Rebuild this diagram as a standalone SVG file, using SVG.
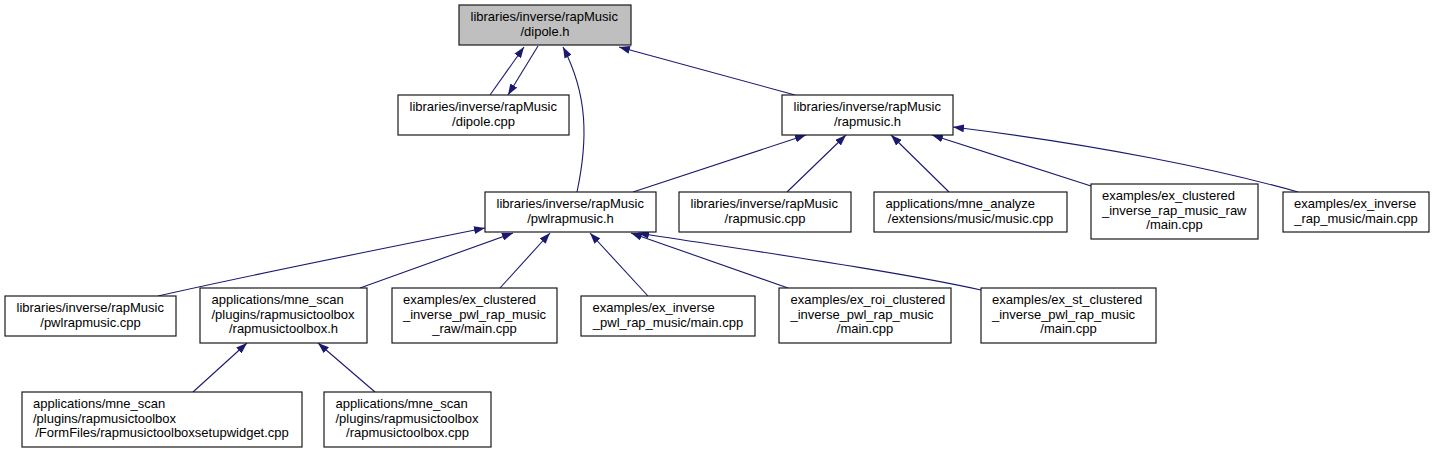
<svg xmlns="http://www.w3.org/2000/svg" width="1435" height="453" viewBox="0 0 1435 453">
<style>
.box{fill:#ffffff;stroke:#1a1a1a;stroke-width:1.2}
.root{fill:#bfbfbf;stroke:#1a1a1a;stroke-width:1.2}
text{font-family:"Liberation Sans",Arial,sans-serif;font-size:13px;fill:#000}
.l{text-anchor:start}
.c{text-anchor:middle}
.edge{fill:none;stroke:#191970;stroke-width:1.1;marker-end:url(#ah)}
</style>
<defs>
<marker id="ah" markerWidth="11" markerHeight="8" refX="11" refY="4" orient="auto" markerUnits="userSpaceOnUse">
<path d="M0,0 L11,4 L0,8 z" fill="#191970"/>
</marker>
</defs>
<rect width="1435" height="453" fill="#ffffff"/>
<g id="edges">
<path class="edge" d="M490,95 L524,47"/>
<path class="edge" d="M538,46 L508,95"/>
<path class="edge" d="M577,192 C588,140 588,95 563,47"/>
<path class="edge" d="M795,95 L619,47"/>
<path class="edge" d="M633,192 L806,135"/>
<path class="edge" d="M787,192 L846,135"/>
<path class="edge" d="M949,192 L891,135"/>
<path class="edge" d="M1091,186 L932,135"/>
<path class="edge" d="M1298,192 C1220,170 1100,145 953,127"/>
<path class="edge" d="M158,296 C250,275 400,245 485,228"/>
<path class="edge" d="M360,288 L513,233"/>
<path class="edge" d="M500,288 L550,233"/>
<path class="edge" d="M648,296 L590,233"/>
<path class="edge" d="M788,288 L631,233"/>
<path class="edge" d="M981,290 C900,272 760,252 638,233"/>
<path class="edge" d="M193,392 L247,343"/>
<path class="edge" d="M375,392 L318,343"/>
</g>
<g id="dipole_h">
<rect class="root" x="459" y="5" width="172" height="40"/>
<text class="l" x="470.5" y="21">libraries/inverse/rapMusic</text>
<text class="c" x="545" y="35.5">/dipole.h</text>
</g>
<g id="dipole_cpp">
<rect class="box" x="398" y="95" width="171" height="40"/>
<text class="l" x="409.5" y="111">libraries/inverse/rapMusic</text>
<text class="c" x="483.5" y="125.5">/dipole.cpp</text>
</g>
<g id="rapmusic_h">
<rect class="box" x="782" y="95" width="171" height="40"/>
<text class="l" x="793.5" y="111">libraries/inverse/rapMusic</text>
<text class="c" x="867.5" y="125.5">/rapmusic.h</text>
</g>
<g id="pwlrapmusic_h">
<rect class="box" x="485" y="192" width="171" height="40"/>
<text class="l" x="496.5" y="208">libraries/inverse/rapMusic</text>
<text class="c" x="570.5" y="222.5">/pwlrapmusic.h</text>
</g>
<g id="rapmusic_cpp">
<rect class="box" x="679" y="192" width="172" height="40"/>
<text class="l" x="690.5" y="208">libraries/inverse/rapMusic</text>
<text class="c" x="765" y="222.5">/rapmusic.cpp</text>
</g>
<g id="music_cpp">
<rect class="box" x="874" y="192" width="193" height="40"/>
<text class="l" x="885.5" y="208">applications/mne_analyze</text>
<text class="c" x="970.5" y="222.5">/extensions/music/music.cpp</text>
</g>
<g id="ex_clustered_rap_raw">
<rect class="box" x="1091" y="184" width="167" height="55"/>
<text class="l" x="1102" y="200">examples/ex_clustered</text>
<text class="l" x="1102" y="214.5">_inverse_rap_music_raw</text>
<text class="c" x="1174.5" y="229">/main.cpp</text>
</g>
<g id="ex_inverse_rap">
<rect class="box" x="1283" y="192" width="146" height="40"/>
<text class="l" x="1294" y="208">examples/ex_inverse</text>
<text class="c" x="1356" y="222.5">_rap_music/main.cpp</text>
</g>
<g id="pwlrapmusic_cpp">
<rect class="box" x="5" y="296" width="171" height="40"/>
<text class="l" x="16.5" y="312">libraries/inverse/rapMusic</text>
<text class="c" x="90.5" y="326.5">/pwlrapmusic.cpp</text>
</g>
<g id="rapmusictoolbox_h">
<rect class="box" x="200" y="288" width="167" height="55"/>
<text class="l" x="211.5" y="304">applications/mne_scan</text>
<text class="l" x="211.5" y="318.5">/plugins/rapmusictoolbox</text>
<text class="c" x="283.5" y="333">/rapmusictoolbox.h</text>
</g>
<g id="ex_clustered_pwl_raw">
<rect class="box" x="392" y="288" width="165" height="55"/>
<text class="l" x="403" y="304">examples/ex_clustered</text>
<text class="l" x="403" y="318.5">_inverse_pwl_rap_music</text>
<text class="c" x="474.5" y="333">_raw/main.cpp</text>
</g>
<g id="ex_inverse_pwl">
<rect class="box" x="581" y="296" width="174" height="40"/>
<text class="l" x="592.5" y="312">examples/ex_inverse</text>
<text class="c" x="668" y="326.5">_pwl_rap_music/main.cpp</text>
</g>
<g id="ex_roi_clustered">
<rect class="box" x="779" y="288" width="172" height="55"/>
<text class="l" x="790.5" y="304">examples/ex_roi_clustered</text>
<text class="l" x="790.5" y="318.5">_inverse_pwl_rap_music</text>
<text class="c" x="865" y="333">/main.cpp</text>
</g>
<g id="ex_st_clustered">
<rect class="box" x="981" y="288" width="175" height="55"/>
<text class="l" x="992" y="304">examples/ex_st_clustered</text>
<text class="l" x="992" y="318.5">_inverse_pwl_rap_music</text>
<text class="c" x="1068.5" y="333">/main.cpp</text>
</g>
<g id="setupwidget_cpp">
<rect class="box" x="22" y="392" width="280" height="55"/>
<text class="l" x="33" y="408">applications/mne_scan</text>
<text class="l" x="33" y="422.5">/plugins/rapmusictoolbox</text>
<text class="c" x="162" y="437">/FormFiles/rapmusictoolboxsetupwidget.cpp</text>
</g>
<g id="rapmusictoolbox_cpp">
<rect class="box" x="324" y="392" width="167" height="55"/>
<text class="l" x="335.5" y="408">applications/mne_scan</text>
<text class="l" x="335.5" y="422.5">/plugins/rapmusictoolbox</text>
<text class="c" x="407.5" y="437">/rapmusictoolbox.cpp</text>
</g>
</svg>
